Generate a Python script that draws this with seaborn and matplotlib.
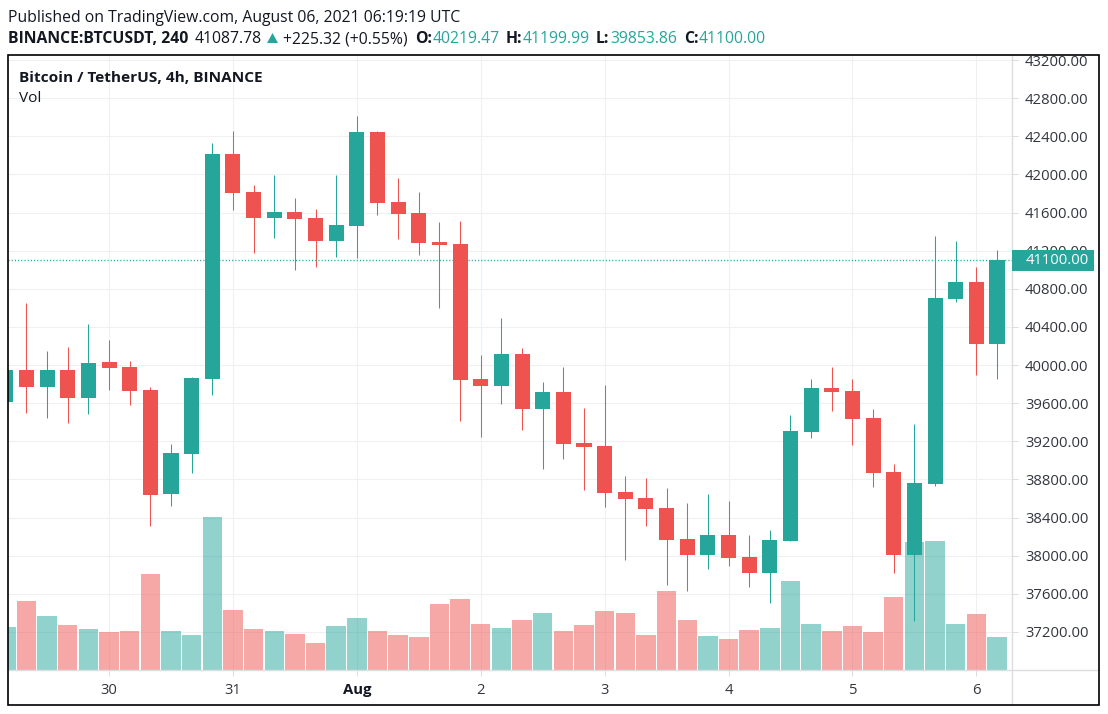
import matplotlib
matplotlib.use("Agg")
import matplotlib.pyplot as plt
from matplotlib.lines import Line2D
from matplotlib.patches import Polygon, Rectangle
import numpy as np
import pandas as pd
import seaborn as sns

# 4h candles, Bitcoin / TetherUS
opens = [39608, 39944, 39766, 39944, 39650, 40028, 39976, 39734, 38642, 39062,
         39850, 42212, 41813, 41540, 41603, 41540, 41299, 41456, 42443, 41708,
         41593, 41288, 41267, 39850, 39776, 40112, 39535, 39713, 39178, 39146,
         38663, 38600, 38495, 38170, 38002, 38212, 37981, 37823, 38149, 39293,
         39755, 39724, 39440, 38873, 38002, 38748, 40690, 40868, 40217]
closes = [39944, 39766, 39944, 39650, 40018, 39965, 39724, 38632, 39073, 39860,
          42212, 41803, 41540, 41603, 41530, 41299, 41467, 42443, 41698, 41582,
          41278, 41257, 39839, 39776, 40112, 39535, 39713, 39167, 39136, 38653,
          38590, 38485, 38159, 38002, 38212, 37970, 37823, 38159, 39304, 39755,
          39713, 39430, 38863, 38002, 38758, 40700, 40868, 40217, 41100]
highs = [40050, 40648, 40144, 40186, 40427, 40259, 40039, 39766, 39167, 39871,
         42328, 42454, 41887, 41992, 41750, 41635, 41992, 42611, 42454, 41960,
         41813, 41498, 41509, 40102, 40490, 40175, 39818, 39976, 39545, 39787,
         38831, 38810, 38705, 38548, 38642, 38569, 38212, 38264, 39472, 39850,
         39976, 39850, 39535, 38957, 39377, 41351, 41299, 41026, 41204]
lows = [39480, 39493, 39440, 39388, 39482, 39734, 39577, 38306, 38516, 38863,
        39682, 41624, 41173, 41330, 40994, 41026, 41131, 41120, 41572, 41320,
        41152, 40595, 39415, 39241, 39587, 39314, 38905, 39010, 38684, 38506,
        37949, 38306, 37697, 37634, 37865, 37886, 37666, 37498, 38149, 39230,
        39514, 39157, 38716, 37813, 37319, 38726, 40658, 39892, 39850]
volumes = [43, 69, 54, 45, 41, 38, 39, 96, 39, 35,
           153, 60, 41, 39, 36, 27, 44, 52, 39, 35,
           33, 66, 71, 46, 42, 50, 57, 39, 45, 59,
           57, 35, 79, 50, 34, 31, 40, 42, 89, 46,
           39, 44, 38, 73, 128, 129, 46, 56, 33]

day_pos = [5, 11, 17, 23, 29, 35, 41, 47]
day_labels = ["30", "31", "Aug", "2", "3", "4", "5", "6"]
price_ticks = list(range(37200, 43201, 400))
last_price = 41100

W, H = 1108, 714
TEAL = "#26a69a"
RED = "#ef5350"
GRID = "#f0f0f3"
AXIS = "#dcdde0"
TEXT = "#131722"
TICK_TEXT = "#33363f"

sns.set_theme(style="white")
plt.rcParams["font.family"] = ["Open Sans", "DejaVu Sans"]

df = pd.DataFrame({"i": range(len(opens)), "o": opens, "c": closes,
                   "h": highs, "l": lows, "vol": volumes})
df["dir"] = np.where(df["c"] > df["o"], "up", "down")
df["body"] = (df["c"] - df["o"]).abs()
df["bottom"] = df[["o", "c"]].min(axis=1)

fig = plt.figure(figsize=(W / 100, H / 100), dpi=100)
ax = fig.add_axes([8 / W, 1 - 670 / H, (1012 - 8) / W, (670 - 55) / H])

# pixel scale of the price axis: 20.65 px a candle, 10.5 price units a px
ymin, ymax = 36800, 43253
px = (ymax - ymin) / 615

palette = {"up": TEAL, "down": RED}
sns.barplot(data=df.assign(vol_h=df["vol"] * px), x="i", y="vol_h", hue="dir",
            palette=palette, dodge=False, native_scale=True, width=0.94,
            saturation=1, alpha=0.5, bottom=ymin, legend=False, zorder=1,
            linewidth=0, ax=ax)

for name, color in palette.items():
    part = df[df["dir"] == name]
    wicks = ax.vlines(part["i"], part["l"], part["h"], color=color, linewidth=0.75, zorder=2)
    wicks.set_snap(True)
    sns.barplot(data=part, x="i", y="body", bottom=part["bottom"].to_numpy(),
                color=color, saturation=1, native_scale=True, width=0.73,
                linewidth=0, zorder=3, ax=ax)

ax.set_xlim((8 - 5.8) / 20.65, (1012 - 5.8) / 20.65)
ax.set_ylim(ymin, ymax)
ax.set_xlabel("")
ax.set_ylabel("")

ax.set_xticks(day_pos)
ax.set_xticklabels(day_labels)
ax.set_yticks(price_ticks)
ax.set_yticklabels([f"{p:.2f}" for p in price_ticks])
ax.yaxis.tick_right()
ax.tick_params(axis="both", length=4.3, width=0.72, color=AXIS, labelcolor=TICK_TEXT,
               labelsize=10.7, left=False, right=True, bottom=True)
ax.tick_params(axis="y", pad=5)
ax.tick_params(axis="x", pad=5)
ax.get_xticklabels()[2].set_fontweight("bold")
ax.get_xticklabels()[2].set_color(TEXT)
ax.grid(True, color=GRID, linewidth=0.8)
ax.set_axisbelow(True)
for side in ax.spines:
    ax.spines[side].set_visible(False)

last_line = ax.axhline(last_price, color=TEAL, linewidth=1.0, linestyle=(0, (0.8, 1.5)), zorder=2.5)
last_line.set_snap(True)


def fx(x):
    return x / W


def fy(y):
    return 1 - y / H


def put(x, y, s, color=TEXT, weight="normal", size=11.3):
    fig.text(fx(x), fy(y), s, color=color, fontweight=weight, fontsize=size,
             va="center", ha="left")


# axis lines run on to the outer frame
fig.add_artist(Line2D([fx(1012), fx(1012)], [fy(55), fy(705)], color=AXIS, linewidth=1))
fig.add_artist(Line2D([fx(8), fx(1099)], [fy(670), fy(670)], color=AXIS, linewidth=1))

# last price tag
fig.add_artist(Rectangle((fx(1012), fy(271)), 82 / W, 21 / H, facecolor=TEAL,
                         edgecolor="none", transform=fig.transFigure, zorder=5))
fig.text(fx(1026), fy(260.5), f"{last_price:.2f}", color="white", fontsize=10.7,
         va="center", ha="left", zorder=6)

# outer frame
fig.add_artist(Rectangle((fx(8), fy(705)), (1099 - 8) / W, (705 - 55) / H, fill=False,
                         edgecolor="black", linewidth=1.2, transform=fig.transFigure,
                         zorder=7))

put(8, 18, "Published on TradingView.com, August 06, 2021 06:19:19 UTC")
put(8, 39, "BINANCE:BTCUSDT, 240", weight="bold")
put(195, 39, "41087.78")
fig.add_artist(Polygon([[fx(267), fy(43)], [fx(278), fy(43)], [fx(272.5), fy(33)]],
                       facecolor=TEAL, edgecolor="none", transform=fig.transFigure))
put(283, 39, "+225.32 (+0.55%)")
put(415, 39, "O:", weight="bold")
put(433, 39, "40219.47", color=TEAL)
put(506, 39, "H:", weight="bold")
put(523, 39, "41199.99", color=TEAL)
put(596, 39, "L:", weight="bold")
put(610, 39, "39853.86", color=TEAL)
put(684, 39, "C:", weight="bold")
put(699, 39, "41100.00", color=TEAL)
put(19, 78, "Bitcoin / TetherUS, 4h, BINANCE", weight="bold", size=11.1)
put(19, 98, "Vol", size=11.1)

fig.savefig("out.png", dpi=100)
